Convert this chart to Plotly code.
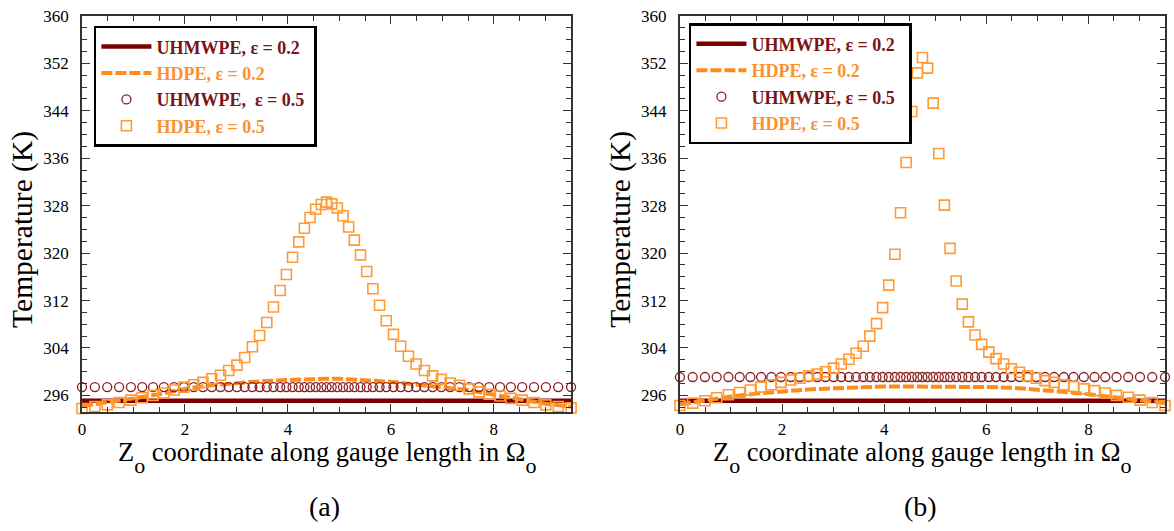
import plotly.graph_objects as go

# Mesh node positions along the gauge length (same nodes for both panels)
z_nodes = [0.00, 0.25, 0.49, 0.72, 0.95, 1.17, 1.38, 1.59, 1.79, 1.98,
           2.17, 2.35, 2.52, 2.69, 2.85, 3.01, 3.16, 3.31, 3.45, 3.59,
           3.72, 3.85, 3.97, 4.09, 4.21, 4.32, 4.43, 4.54, 4.65, 4.75,
           4.85, 4.96, 5.07, 5.18, 5.29, 5.41, 5.53, 5.65, 5.78, 5.91,
           6.05, 6.19, 6.34, 6.49, 6.65, 6.81, 6.98, 7.15, 7.33, 7.52,
           7.71, 7.91, 8.12, 8.33, 8.55, 8.78, 9.01, 9.25, 9.50]

# Positions for the strain 0.2 curves
z_line = [0.0, 0.5, 1.0, 1.5, 2.0, 2.5, 3.0, 3.5, 4.0, 4.5, 4.75,
          5.0, 5.5, 6.0, 6.5, 7.0, 7.5, 8.0, 8.5, 9.0, 9.5]

# Panel (a)
uhmwpe_02_a = [295.1, 295.1, 295.1, 295.1, 295.1, 295.1, 295.1, 295.1, 295.1, 295.1, 295.1,
               295.1, 295.1, 295.1, 295.1, 295.1, 295.1, 295.1, 295.1, 295.1, 295.1]
hdpe_02_a = [294.2, 294.8, 295.5, 296.2, 297.1, 297.7, 298.1, 298.4, 298.6, 298.8, 298.8,
             298.8, 298.6, 298.3, 297.8, 297.4, 296.9, 296.1, 295.3, 294.6, 294.1]
uhmwpe_05_a = [297.4, 297.4, 297.4, 297.4, 297.4, 297.4, 297.4, 297.4, 297.4, 297.4,
               297.4, 297.4, 297.4, 297.4, 297.4, 297.4, 297.4, 297.4, 297.4, 297.4,
               297.4, 297.4, 297.4, 297.4, 297.4, 297.4, 297.4, 297.4, 297.4, 297.4,
               297.4, 297.4, 297.4, 297.4, 297.4, 297.4, 297.4, 297.4, 297.4, 297.4,
               297.4, 297.4, 297.4, 297.4, 297.4, 297.4, 297.4, 297.4, 297.4, 297.4,
               297.4, 297.4, 297.4, 297.4, 297.4, 297.4, 297.4, 297.4, 297.4]
hdpe_05_a = [293.8, 294.1, 294.4, 294.8, 295.2, 295.6, 296.0, 296.4, 296.9, 297.4,
             297.8, 298.2, 298.8, 299.4, 300.2, 301.1, 302.4, 304.2, 306.1, 308.3,
             310.9, 313.7, 316.4, 319.3, 321.9, 324.2, 326.0, 327.4, 328.2, 328.6,
             328.3, 327.6, 326.3, 324.4, 322.2, 319.7, 316.9, 314.0, 311.2, 308.6,
             306.3, 304.3, 302.6, 301.3, 300.2, 299.3, 298.7, 298.1, 297.7, 297.1,
             296.6, 296.2, 295.9, 295.5, 295.2, 294.8, 294.4, 294.1, 293.9]

# Panel (b)
uhmwpe_02_b = [295.1, 295.1, 295.1, 295.1, 295.1, 295.1, 295.1, 295.1, 295.1, 295.1, 295.1,
               295.1, 295.1, 295.1, 295.1, 295.1, 295.1, 295.1, 295.1, 295.1, 295.1]
hdpe_02_b = [294.5, 295.2, 295.8, 296.3, 296.7, 297.0, 297.2, 297.4, 297.5, 297.5, 297.5,
             297.5, 297.5, 297.4, 297.3, 297.0, 296.6, 296.2, 295.7, 295.2, 294.7]
uhmwpe_05_b = [299.1, 299.1, 299.1, 299.1, 299.1, 299.1, 299.1, 299.1, 299.1, 299.1,
               299.1, 299.1, 299.1, 299.1, 299.1, 299.1, 299.1, 299.1, 299.1, 299.1,
               299.1, 299.1, 299.1, 299.1, 299.1, 299.1, 299.1, 299.1, 299.1, 299.1,
               299.1, 299.1, 299.1, 299.1, 299.1, 299.1, 299.1, 299.1, 299.1, 299.1,
               299.1, 299.1, 299.1, 299.1, 299.1, 299.1, 299.1, 299.1, 299.1, 299.1,
               299.1, 299.1, 299.1, 299.1, 299.1, 299.1, 299.1, 299.1, 299.1]
hdpe_05_b = [294.3, 294.7, 295.1, 295.6, 296.1, 296.5, 296.9, 297.4, 297.8, 298.2,
             298.6, 298.9, 299.3, 299.6, 300.0, 300.6, 301.3, 302.1, 303.1, 304.3,
             306.0, 308.1, 310.8, 314.6, 319.8, 326.8, 335.3, 343.9, 350.4, 353.0,
             351.2, 345.3, 336.8, 328.1, 320.8, 315.3, 311.4, 308.4, 306.2, 304.6,
             303.3, 302.2, 301.3, 300.5, 299.9, 299.3, 298.9, 298.5, 298.2, 297.8,
             297.5, 297.1, 296.8, 296.4, 296.0, 295.7, 295.2, 294.8, 294.3]

x_tick_vals = [0, 2, 4, 6, 8]
y_tick_vals = [296, 304, 312, 320, 328, 336, 344, 352, 360]
panel_tags = ["(a)", "(b)"]

DARK_RED = "#7a0000"
CIRCLE_RED = "#8a1c1c"
ORANGE = "#ff8c1a"
SQUARE_ORANGE = "#ff9a35"
TEXT_RED = "#7b1416"
TEXT_ORANGE = "#fb9230"
SERIF = "Liberation Serif"


def label(text, color):
    return f"<span style='color:{color}'><b>{text}</b></span>"


def add_panel(fig, xa, ya, legend, u02, h02, u05, h05, u05_name, pad):
    fig.add_trace(go.Scatter(
        x=z_line, y=u02, mode="lines", xaxis=xa, yaxis=ya, legend=legend,
        line=dict(color=DARK_RED, width=4.5),
        name=label("UHMWPE, ε = 0.2", TEXT_RED)))
    fig.add_trace(go.Scatter(
        x=z_line, y=h02, mode="lines", xaxis=xa, yaxis=ya, legend=legend,
        line=dict(color=ORANGE, width=4, dash="11px,3px"),
        name=label("HDPE, ε = 0.2", TEXT_ORANGE)))
    fig.add_trace(go.Scatter(
        x=z_nodes, y=u05, mode="markers", xaxis=xa, yaxis=ya, legend=legend,
        cliponaxis=False,
        marker=dict(symbol="circle-open", size=9, color=CIRCLE_RED,
                    line=dict(width=1.3, color=CIRCLE_RED)),
        name=label(u05_name, TEXT_RED) + pad))
    fig.add_trace(go.Scatter(
        x=z_nodes, y=h05, mode="markers", xaxis=xa, yaxis=ya, legend=legend,
        cliponaxis=False,
        marker=dict(symbol="square-open", size=10, color=SQUARE_ORANGE,
                    line=dict(width=1.6, color=SQUARE_ORANGE)),
        name=label("HDPE, ε = 0.5", TEXT_ORANGE)))


fig = go.Figure()
add_panel(fig, "x", "y", "legend", uhmwpe_02_a, hdpe_02_a, uhmwpe_05_a, hdpe_05_a,
          "UHMWPE,\u00a0 ε = 0.5", "\u00a0")
add_panel(fig, "x2", "y2", "legend2", uhmwpe_02_b, hdpe_02_b, uhmwpe_05_b, hdpe_05_b,
          "UHMWPE, ε = 0.5", "\u00a0" * 2)

axis_common = dict(
    showline=True, linecolor="#333", linewidth=1.8, mirror="allticks",
    ticks="inside", tickcolor="#333", tickwidth=1.3, ticklen=8,
    showgrid=False, zeroline=False,
    tickfont=dict(family=SERIF, size=17, color="black"),
)
xaxis_common = dict(axis_common, range=[0, 9.5], tickvals=x_tick_vals,
                    minor=dict(ticks="inside", ticklen=5, tickwidth=1.1,
                               tickcolor="#333", dtick=0.5, tick0=0, showgrid=False),
                    ticklabelstandoff=1)
yaxis_common = dict(axis_common, range=[293.2, 360], tickvals=y_tick_vals,
                    minor=dict(ticks="inside", ticklen=5, tickwidth=1.1,
                               tickcolor="#333", dtick=2, tick0=296, showgrid=False),
                    ticklabelstandoff=8)

legend_common = dict(
    bgcolor="white", bordercolor="black", borderwidth=2.5,
    font=dict(family=SERIF, size=18), itemwidth=50,
    xanchor="left", yanchor="top", tracegroupgap=0,
)

dom_a = [0.0, 0.4516]
dom_b = [0.5521, 1.0]

# lowered, near full-size "o" indices
idx_o = "<sub><sub><sub><span style='font-size:22px'>o</span></sub></sub></sub>"
x_title = f"Z{idx_o} coordinate along gauge length in Ω{idx_o}"

annotations = []
for dom, tag in zip([dom_a, dom_b], panel_tags):
    cx = (dom[0] + dom[1]) / 2
    annotations.append(dict(
        text=x_title, xref="paper", yref="paper", x=cx, y=-0.116,
        xanchor="center", yanchor="middle", showarrow=False,
        font=dict(family=SERIF, size=26.5, color="black")))
    annotations.append(dict(
        text=tag, xref="paper", yref="paper", x=cx - 0.0015, y=-0.239,
        xanchor="center", yanchor="middle", showarrow=False,
        font=dict(family=SERIF, size=28, color="black")))
    annotations.append(dict(
        text="Temperature (K)", xref="paper", yref="paper",
        x=dom[0] - 0.055, y=0.461, xanchor="center", yanchor="middle", textangle=-90,
        showarrow=False, font=dict(family=SERIF, size=29.5, color="black")))

fig.update_layout(
    width=1174, height=531, autosize=False,
    margin=dict(l=82, r=7, t=14, b=119),
    paper_bgcolor="white", plot_bgcolor="white",
    xaxis=dict(xaxis_common, domain=dom_a, anchor="y"),
    yaxis=dict(yaxis_common, anchor="x"),
    xaxis2=dict(xaxis_common, domain=dom_b, anchor="y2"),
    yaxis2=dict(yaxis_common, anchor="x2"),
    legend=dict(legend_common, x=0.011, y=0.975),
    legend2=dict(legend_common, x=0.5604, y=0.982),
    annotations=annotations,
)

fig.write_html("out.html")
